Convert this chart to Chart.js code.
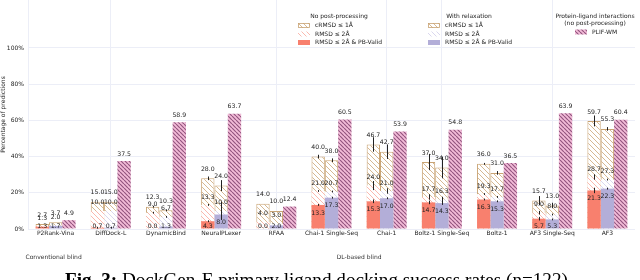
<!DOCTYPE html>
<html>
<head>
<meta charset="utf-8">
<script src="https://cdn.jsdelivr.net/npm/chart.js@4.4.0/dist/chart.umd.min.js"></script>
<style>
html, body { margin: 0; padding: 0; background: #fff; }
#caja { width: 640px; height: 280px; position: relative; }
</style>
</head>
<body>
<div id="caja"><canvas id="myChart" width="640" height="280"></canvas></div>
<script>
// datos
const categorias = ['P2Rank-Vina', 'DiffDock-L', 'DynamicBind', 'NeuralPLexer', 'RFAA', 'Chai-1 Single-Seq', 'Chai-1', 'Boltz-1 Single-Seq', 'Boltz-1', 'AF3 Single-Seq', 'AF3'];
const sinPostC  = [2.7, 15.0, 12.3, 28.0, 14.0, 40.0, 46.7, 37.0, 36.0, 15.7, 59.7];
const sinPostR  = [1.3, 10.0, 9.0, 13.3, 4.0, 21.0, 24.0, 17.7, 19.3, 9.0, 28.7];
const sinPostPB = [1.3, 0.7, 0.0, 4.3, 0.0, 13.3, 15.3, 14.7, 16.3, 5.7, 21.3];
const relajC    = [3.7, 15.0, 10.3, 24.0, 10.0, 38.0, 42.7, 34.0, 31.0, 13.0, 55.3];
const relajR    = [2.0, 10.0, 6.7, 10.0, 3.0, 20.7, 21.0, 16.3, 17.7, 8.0, 27.3];
const relajPB   = [1.7, 0.7, 1.3, 8.0, 2.0, 17.3, 17.0, 14.3, 15.3, 5.3, 22.3];
const plifWM    = [4.9, 37.5, 58.9, 63.7, 12.4, 60.5, 53.9, 54.8, 36.5, 63.9, 60.4];
// barras de error (medio ancho, estimado)
const errSinPostC  = [0, 0, 0.5, 1, 0, 1, 4, 4.5, 0.5, 2.5, 3];
const errSinPostR  = [0, 0, 0.5, 0.5, 0, 0.5, 2.5, 1.5, 0.5, 1, 1.5];
const errSinPostPB = [0, 0.5, 0, 0.5, 0, 0.5, 1, 1, 0.5, 1, 1.5];
const errRelajC    = [0, 0, 0.5, 3, 0, 1, 4, 6, 1, 1.5, 1];
const errRelajR    = [0, 0, 0.5, 5, 0, 0.5, 1.5, 1.5, 0.5, 0.5, 0.5];
const errRelajPB   = [0, 0.5, 0, 0.5, 0, 0.5, 0.5, 1, 0.5, 0.5, 0.5];
const ticksY = [0, 20, 40, 60, 80, 100];
const lineasVerticales = [1, 4, 6, 7, 9];

const fuente = '"DejaVu Sans"';

function rayado(fondo, linea, paso, grosor) {
    const c = document.createElement('canvas');
    c.width = paso; c.height = paso;
    const g = c.getContext('2d');
    g.fillStyle = fondo;
    g.fillRect(0, 0, paso, paso);
    g.strokeStyle = linea;
    g.lineWidth = grosor;
    g.beginPath();
    for (let k of [-paso, 0, paso]) {
        g.moveTo(k, 0);
        g.lineTo(k + paso, paso);
    }
    g.stroke();
    return g.createPattern(c, 'repeat');
}

const patCRMSD = rayado('#ffffff', '#d6b892', 5, 1);
const patRMSDrojo = rayado('#ffffff', '#fbb9ae', 5, 1);
const patRMSDlila = rayado('#ffffff', '#dad7ee', 5, 1);
const patPLIF = rayado('#f3bcd8', '#93557f', 4, 1.2);
const rojo = '#f8806e';
const lila = '#b3aed8';
const tanBorde = '#c9a474';

// info por dataset: tipo de etiqueta y errores
const infoSets = [
    {tipo: 'c', err: errSinPostC},
    {tipo: 'r', err: errSinPostR},
    {tipo: 'pb', err: errSinPostPB},
    {tipo: 'c', err: errRelajC},
    {tipo: 'r', err: errRelajR},
    {tipo: 'pb', err: errRelajPB},
    {tipo: 'p', err: null}
];

const pluginExtras = {
    id: 'extras',
    afterDatasetsDraw(chart) {
        const ctx = chart.ctx;
        const yS = chart.scales.y;
        const xS = chart.scales.x;
        const cero = yS.getPixelForValue(0);
        // barras de error
        ctx.save();
        ctx.strokeStyle = '#222';
        ctx.lineWidth = 1;
        chart.data.datasets.forEach((ds, d) => {
            const info = infoSets[d];
            if (!info.err) return;
            chart.getDatasetMeta(d).data.forEach((el, i) => {
                const e = info.err[i];
                if (!e) return;
                const v = ds.data[i];
                const x = Math.round(el.x) + 0.5;
                ctx.beginPath();
                ctx.moveTo(x, yS.getPixelForValue(v - e));
                ctx.lineTo(x, yS.getPixelForValue(v + e));
                ctx.stroke();
            });
        });
        // etiquetas
        ctx.font = '6.2px ' + fuente;
        ctx.fillStyle = '#222';
        ctx.textAlign = 'center';
        ctx.textBaseline = 'middle';
        chart.data.datasets.forEach((ds, d) => {
            const info = infoSets[d];
            chart.getDatasetMeta(d).data.forEach((el, i) => {
                let y;
                if (info.tipo == 'c') y = el.y - 9;
                else if (info.tipo == 'r') y = el.y - 8;
                else if (info.tipo == 'p') y = el.y - 7;
                else y = Math.min(el.y + 8, cero - 2.5);
                ctx.fillText(ds.data[i].toFixed(1), el.x, y);
            });
        });
        // grupos
        ctx.font = '6px ' + fuente;
        ctx.fillStyle = '#333';
        ctx.fillText('Conventional blind', xS.getPixelForValue(0) - 2, 257);
        ctx.fillText('DL-based blind', (xS.getPixelForValue(5) + xS.getPixelForValue(6)) / 2, 257);

        // leyendas
        function fila(x, y, relleno, borde, texto) {
            ctx.fillStyle = relleno;
            ctx.fillRect(x, y - 2, 12, 5);
            if (borde) {
                ctx.strokeStyle = borde;
                ctx.lineWidth = 0.8;
                ctx.strokeRect(x + 0.5, y - 1.5, 11, 4);
            }
            ctx.fillStyle = '#222';
            ctx.textAlign = 'left';
            ctx.fillText(texto, x + 17, y + 0.5);
        }
        ctx.font = '6px ' + fuente;
        ctx.textAlign = 'center';
        ctx.fillStyle = '#222';
        ctx.fillText('No post-processing', 339, 16);
        fila(298, 25, patCRMSD, tanBorde, 'cRMSD \u2264 1\u00c5');
        fila(298, 33.5, patRMSDrojo, null, 'RMSD \u2264 2\u00c5');
        fila(298, 42, rojo, null, 'RMSD \u2264 2\u00c5 & PB-Valid');
        ctx.textAlign = 'center';
        ctx.fillStyle = '#222';
        ctx.fillText('With relaxation', 469, 16);
        fila(428, 25, patCRMSD, tanBorde, 'cRMSD \u2264 1\u00c5');
        fila(428, 33.5, patRMSDlila, null, 'RMSD \u2264 2\u00c5');
        fila(428, 42, lila, null, 'RMSD \u2264 2\u00c5 & PB-Valid');
        ctx.textAlign = 'center';
        ctx.fillStyle = '#222';
        ctx.fillText('Protein-ligand interactions', 595, 16);
        ctx.fillText('(no post-processing)', 595, 23.5);
        fila(575, 31.5, patPLIF, null, 'PLIF-WM');

        // pie de figura
        const ancho = 503;
        ctx.textAlign = 'left';
        ctx.textBaseline = 'alphabetic';
        ctx.fillStyle = '#000';
        const parte1 = 'Fig. 3:';
        const parte2 = ' DockGen-E primary ligand docking success rates (n=122)';
        ctx.font = 'bold 20px "Liberation Serif"';
        const w1 = ctx.measureText(parte1).width;
        ctx.font = '20px "Liberation Serif"';
        const w2 = ctx.measureText(parte2).width;
        const tam = 20 * ancho / (w1 + w2);
        ctx.font = 'bold ' + tam + 'px "Liberation Serif"';
        ctx.fillText(parte1, 65, 286);
        const a1 = ctx.measureText(parte1).width;
        ctx.font = tam + 'px "Liberation Serif"';
        ctx.fillText(parte2, 65 + a1, 286);
        ctx.restore();
    }
};

const graficoHtml = document.getElementById('myChart').getContext('2d');
const graficoNuevo = new Chart(graficoHtml, {
    type: 'bar',
    data: {
        labels: categorias,
        datasets: [
            {label: 'cRMSD', stack: 'np', order: 3, data: sinPostC, backgroundColor: patCRMSD, borderColor: tanBorde, borderWidth: 1},
            {label: 'RMSD', stack: 'np', order: 2, data: sinPostR, backgroundColor: patRMSDrojo, borderWidth: 0},
            {label: 'PB', stack: 'np', order: 1, data: sinPostPB, backgroundColor: rojo, borderWidth: 0},
            {label: 'cRMSD r', stack: 'rx', order: 3, data: relajC, backgroundColor: patCRMSD, borderColor: tanBorde, borderWidth: 1},
            {label: 'RMSD r', stack: 'rx', order: 2, data: relajR, backgroundColor: patRMSDlila, borderWidth: 0},
            {label: 'PB r', stack: 'rx', order: 1, data: relajPB, backgroundColor: lila, borderWidth: 0},
            {label: 'PLIF-WM', stack: 'pl', order: 1, data: plifWM, backgroundColor: patPLIF, borderWidth: 0}
        ]
    },
    options: {
        responsive: false,
        animation: false,
        categoryPercentage: 0.725,
        barPercentage: 1.0,
        layout: {padding: {left: 0, right: 5, top: 0, bottom: 0}},
        plugins: {
            legend: {display: false},
            tooltip: {enabled: false}
        },
        scales: {
            x: {
                grid: {
                    offset: false,
                    drawTicks: false,
                    color: (c) => lineasVerticales.includes(c.index) ? '#eceef7' : 'rgba(0,0,0,0)'
                },
                border: {display: false},
                ticks: {
                    font: {family: 'DejaVu Sans', size: 6},
                    color: '#222',
                    padding: 1,
                    maxRotation: 0,
                    autoSkip: false
                },
                afterFit: (s) => { s.height = 51; }
            },
            y: {
                stacked: false,
                min: 0,
                max: 126.5,
                grid: {
                    drawTicks: false,
                    color: (c) => ticksY.includes(c.tick.value) ? '#eceef7' : 'rgba(0,0,0,0)'
                },
                border: {display: true, color: '#eceef7'},
                afterBuildTicks: (s) => { s.ticks = ticksY.map(v => ({value: v})); },
                ticks: {
                    font: {family: 'DejaVu Sans', size: 6},
                    color: '#222',
                    padding: 4,
                    callback: (v) => v + '%'
                },
                title: {
                    display: true,
                    text: 'Percentage of predictions',
                    font: {family: 'DejaVu Sans', size: 6},
                    color: '#222',
                    padding: 0
                },
                afterFit: (s) => { s.width = 28; s.paddingTop = 0; s.paddingBottom = 0; }
            }
        }
    },
    plugins: [pluginExtras]
});
</script>
</body>
</html>
